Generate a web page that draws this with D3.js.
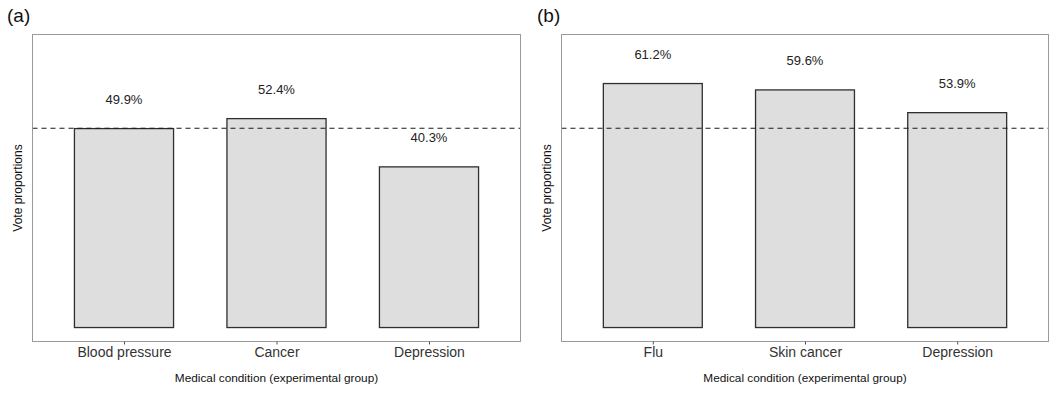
<!DOCTYPE html>
<html>
<head>
<meta charset="utf-8">
<script src="https://cdn.jsdelivr.net/npm/d3@7"></script>
<style>
  html, body { margin: 0; padding: 0; background: #fff; }
  svg { display: block; font-family: "Liberation Sans", Arial, Helvetica, sans-serif; }
</style>
</head>
<body>
<svg id="chart" width="1050" height="397"></svg>
<script>
// ---- data ----
const panelTags = ["(a)", "(b)"];
const categoriesA = ["Blood pressure", "Cancer", "Depression"];
const valuesA = [0.499, 0.524, 0.403];
const labelsA = ["49.9%", "52.4%", "40.3%"];
const categoriesB = ["Flu", "Skin cancer", "Depression"];
const valuesB = [0.612, 0.596, 0.539];
const labelsB = ["61.2%", "59.6%", "53.9%"];
const referenceLine = 0.5;
const yLimits = [0, 0.7];
const xTitle = "Medical condition (experimental group)";
const yTitle = "Vote proportions";

// ---- layout ----
const svg = d3.select("#chart");
const plotTop = 34.5, plotBottom = 341.5;
const panels = [
  { tag: panelTags[0], cats: categoriesA, vals: valuesA, labs: labelsA, x0: 32.5, x1: 520.5, tagX: 7 },
  { tag: panelTags[1], cats: categoriesB, vals: valuesB, labs: labelsB, x0: 561.5, x1: 1048.5, tagX: 537 }
];

const yExp = (yLimits[1] - yLimits[0]) * 0.05;
const y = d3.scaleLinear().domain([yLimits[0] - yExp, yLimits[1] + yExp]).range([plotBottom, plotTop]);

panels.forEach(p => {
  const g = svg.append("g");
  const x = d3.scalePoint().domain(p.cats).range([p.x0, p.x1]).padding(0.6);
  const bw = x.step() * 0.65;

  // tag
  g.append("text").attr("x", p.tagX).attr("y", 21.5)
    .attr("font-size", 19).attr("fill", "#111").text(p.tag);

  // bars
  g.selectAll("rect.bar").data(p.vals).join("rect")
    .attr("class", "bar")
    .attr("x", (d, i) => x(p.cats[i]) - bw / 2)
    .attr("width", bw)
    .attr("y", d => y(d))
    .attr("height", d => y(0) - y(d))
    .attr("fill", "#dedede")
    .attr("stroke", "#2f2f2f")
    .attr("stroke-width", 1.3);

  // reference dashed line
  g.append("line")
    .attr("x1", p.x0).attr("x2", p.x1)
    .attr("y1", y(referenceLine)).attr("y2", y(referenceLine))
    .attr("stroke", "#1a1a1a").attr("stroke-width", 1.1)
    .attr("stroke-dasharray", "5,4");

  // value labels
  g.selectAll("text.val").data(p.vals).join("text")
    .attr("class", "val")
    .attr("x", (d, i) => x(p.cats[i]))
    .attr("y", d => y(d) - 29)
    .attr("dy", "0.35em")
    .attr("text-anchor", "middle")
    .attr("font-size", 13)
    .attr("fill", "#222")
    .text((d, i) => p.labs[i]);

  // panel border
  g.append("rect")
    .attr("x", p.x0).attr("y", plotTop)
    .attr("width", p.x1 - p.x0).attr("height", plotBottom - plotTop)
    .attr("fill", "none").attr("stroke", "#9a9a9a").attr("stroke-width", 1);

  // x axis
  const ax = g.append("g").attr("transform", `translate(0,${plotBottom})`)
    .call(d3.axisBottom(x).tickSize(3).tickPadding(3));
  ax.select(".domain").remove();
  ax.selectAll(".tick line").attr("stroke", "#555");
  ax.selectAll(".tick text").attr("font-size", 14).attr("fill", "#333")
    .attr("font-family", "'Liberation Sans', Arial, Helvetica, sans-serif");

  // axis titles
  g.append("text")
    .attr("x", (p.x0 + p.x1) / 2).attr("y", 382)
    .attr("text-anchor", "middle").attr("font-size", 11.8).attr("fill", "#111")
    .text(xTitle);
  g.append("text")
    .attr("transform", `translate(${p.x0 - 11},${(plotTop + plotBottom) / 2}) rotate(-90)`)
    .attr("text-anchor", "middle").attr("font-size", 12).attr("fill", "#111")
    .text(yTitle);
});
</script>
</body>
</html>
